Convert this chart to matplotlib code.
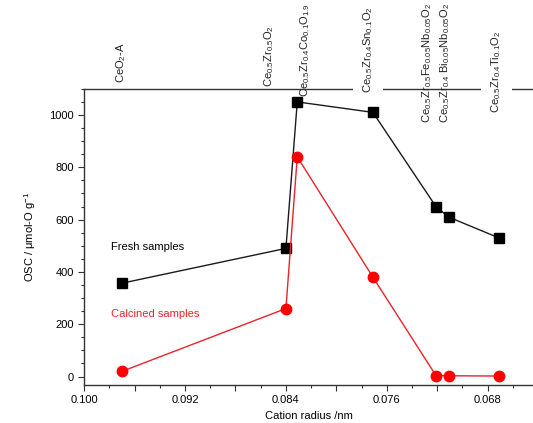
import numpy as np
import matplotlib
matplotlib.use('Agg')
import matplotlib.pyplot as plt
from matplotlib.ticker import MultipleLocator, FuncFormatter
import matplotlib.transforms as transforms

matplotlib.rcParams['font.family'] = 'Liberation Sans'
matplotlib.rcParams['mathtext.fontset'] = 'custom'
matplotlib.rcParams['mathtext.rm'] = 'Liberation Sans'
matplotlib.rcParams['mathtext.it'] = 'Liberation Sans'

# cation radius (nm) and OSC values
radius = [0.0970, 0.0840, 0.0831, 0.0771, 0.0721, 0.0711, 0.0671]
fresh = [357, 490, 1050, 1010, 650, 610, 530]
calcined = [20, 260, 840, 380, 4, 3, 2]

sample_names = [r'CeO$_2$-A',
                r'Ce$_{0.5}$Zr$_{0.5}$O$_2$',
                r'Ce$_{0.5}$Zr$_{0.4}$Co$_{0.1}$O$_{1.9}$',
                r'Ce$_{0.5}$Zr$_{0.4}$Sn$_{0.1}$O$_2$',
                r'Ce$_{0.5}$Zr$_{0.5}$Fe$_{0.05}$Nb$_{0.05}$O$_2$',
                r'Ce$_{0.5}$Zr$_{0.4}$ Bi$_{0.05}$Nb$_{0.05}$O$_2$',
                r'Ce$_{0.5}$Zr$_{0.4}$Ti$_{0.1}$O$_2$']
name_x = [0.09706, 0.0853, 0.0825, 0.0775, 0.0728, 0.0714, 0.0673]
name_y = [1.02, 1.007, 0.973, 0.986, 0.885, 0.885, 0.919]
name_box = [False, False, False, True, False, False, True]

fig = plt.figure(figsize=(5.33, 4.23), dpi=100)
ax = fig.add_axes([0.158, 0.090, 0.842, 0.700])

ax.plot(radius, fresh, color='#1a1a1a', lw=1.0, marker='s', ms=7,
        markerfacecolor='black', markeredgecolor='black', zorder=3)
ax.plot(radius, calcined, color='#e8232a', lw=1.0, marker='o', ms=7.5,
        markerfacecolor='#ff0000', markeredgecolor='#ff0000', zorder=3)

ax.set_xlim(0.100, 0.0644)
ax.set_ylim(-32, 1100)

ax.xaxis.set_major_locator(MultipleLocator(0.004))
ax.xaxis.set_minor_locator(MultipleLocator(0.002))
ax.xaxis.set_major_formatter(FuncFormatter(
    lambda v, p: '%.3f' % v if round(v / 0.004) % 2 == 1 else ''))
ax.yaxis.set_major_locator(MultipleLocator(200))
ax.yaxis.set_minor_locator(MultipleLocator(50))

ax.tick_params(which='both', direction='out', labelsize=8, color='#333333',
               top=False, right=False)
ax.tick_params(which='major', length=4, width=0.8)
ax.tick_params(which='minor', length=2.5, width=0.8)
ax.spines['right'].set_visible(False)
for s in ['left', 'bottom', 'top']:
    ax.spines[s].set_color('#333333')
    ax.spines[s].set_linewidth(1.0)

ax.set_xlabel('Cation radius /nm', fontsize=8, labelpad=4)
ax.set_ylabel(r'OSC / $\mathregular{\mu}$mol-O g$^{-1}$', fontsize=8, labelpad=8)

ax.text(0.0979, 494, 'Fresh samples', fontsize=8, color='black', va='center')
ax.text(0.0979, 240, 'Calcined samples', fontsize=8, color='#e8232a', va='center')

trans = transforms.blended_transform_factory(ax.transData, ax.transAxes)
for name, nx, ny, box in zip(sample_names, name_x, name_y, name_box):
    kw = {}
    if box:
        kw['bbox'] = dict(facecolor='white', edgecolor='none', pad=6)
    ax.text(nx, ny, name, transform=trans, rotation=90, ha='center', va='bottom',
            fontsize=8, color='#222222', zorder=5, **kw)

plt.savefig('out.png', dpi=100)
